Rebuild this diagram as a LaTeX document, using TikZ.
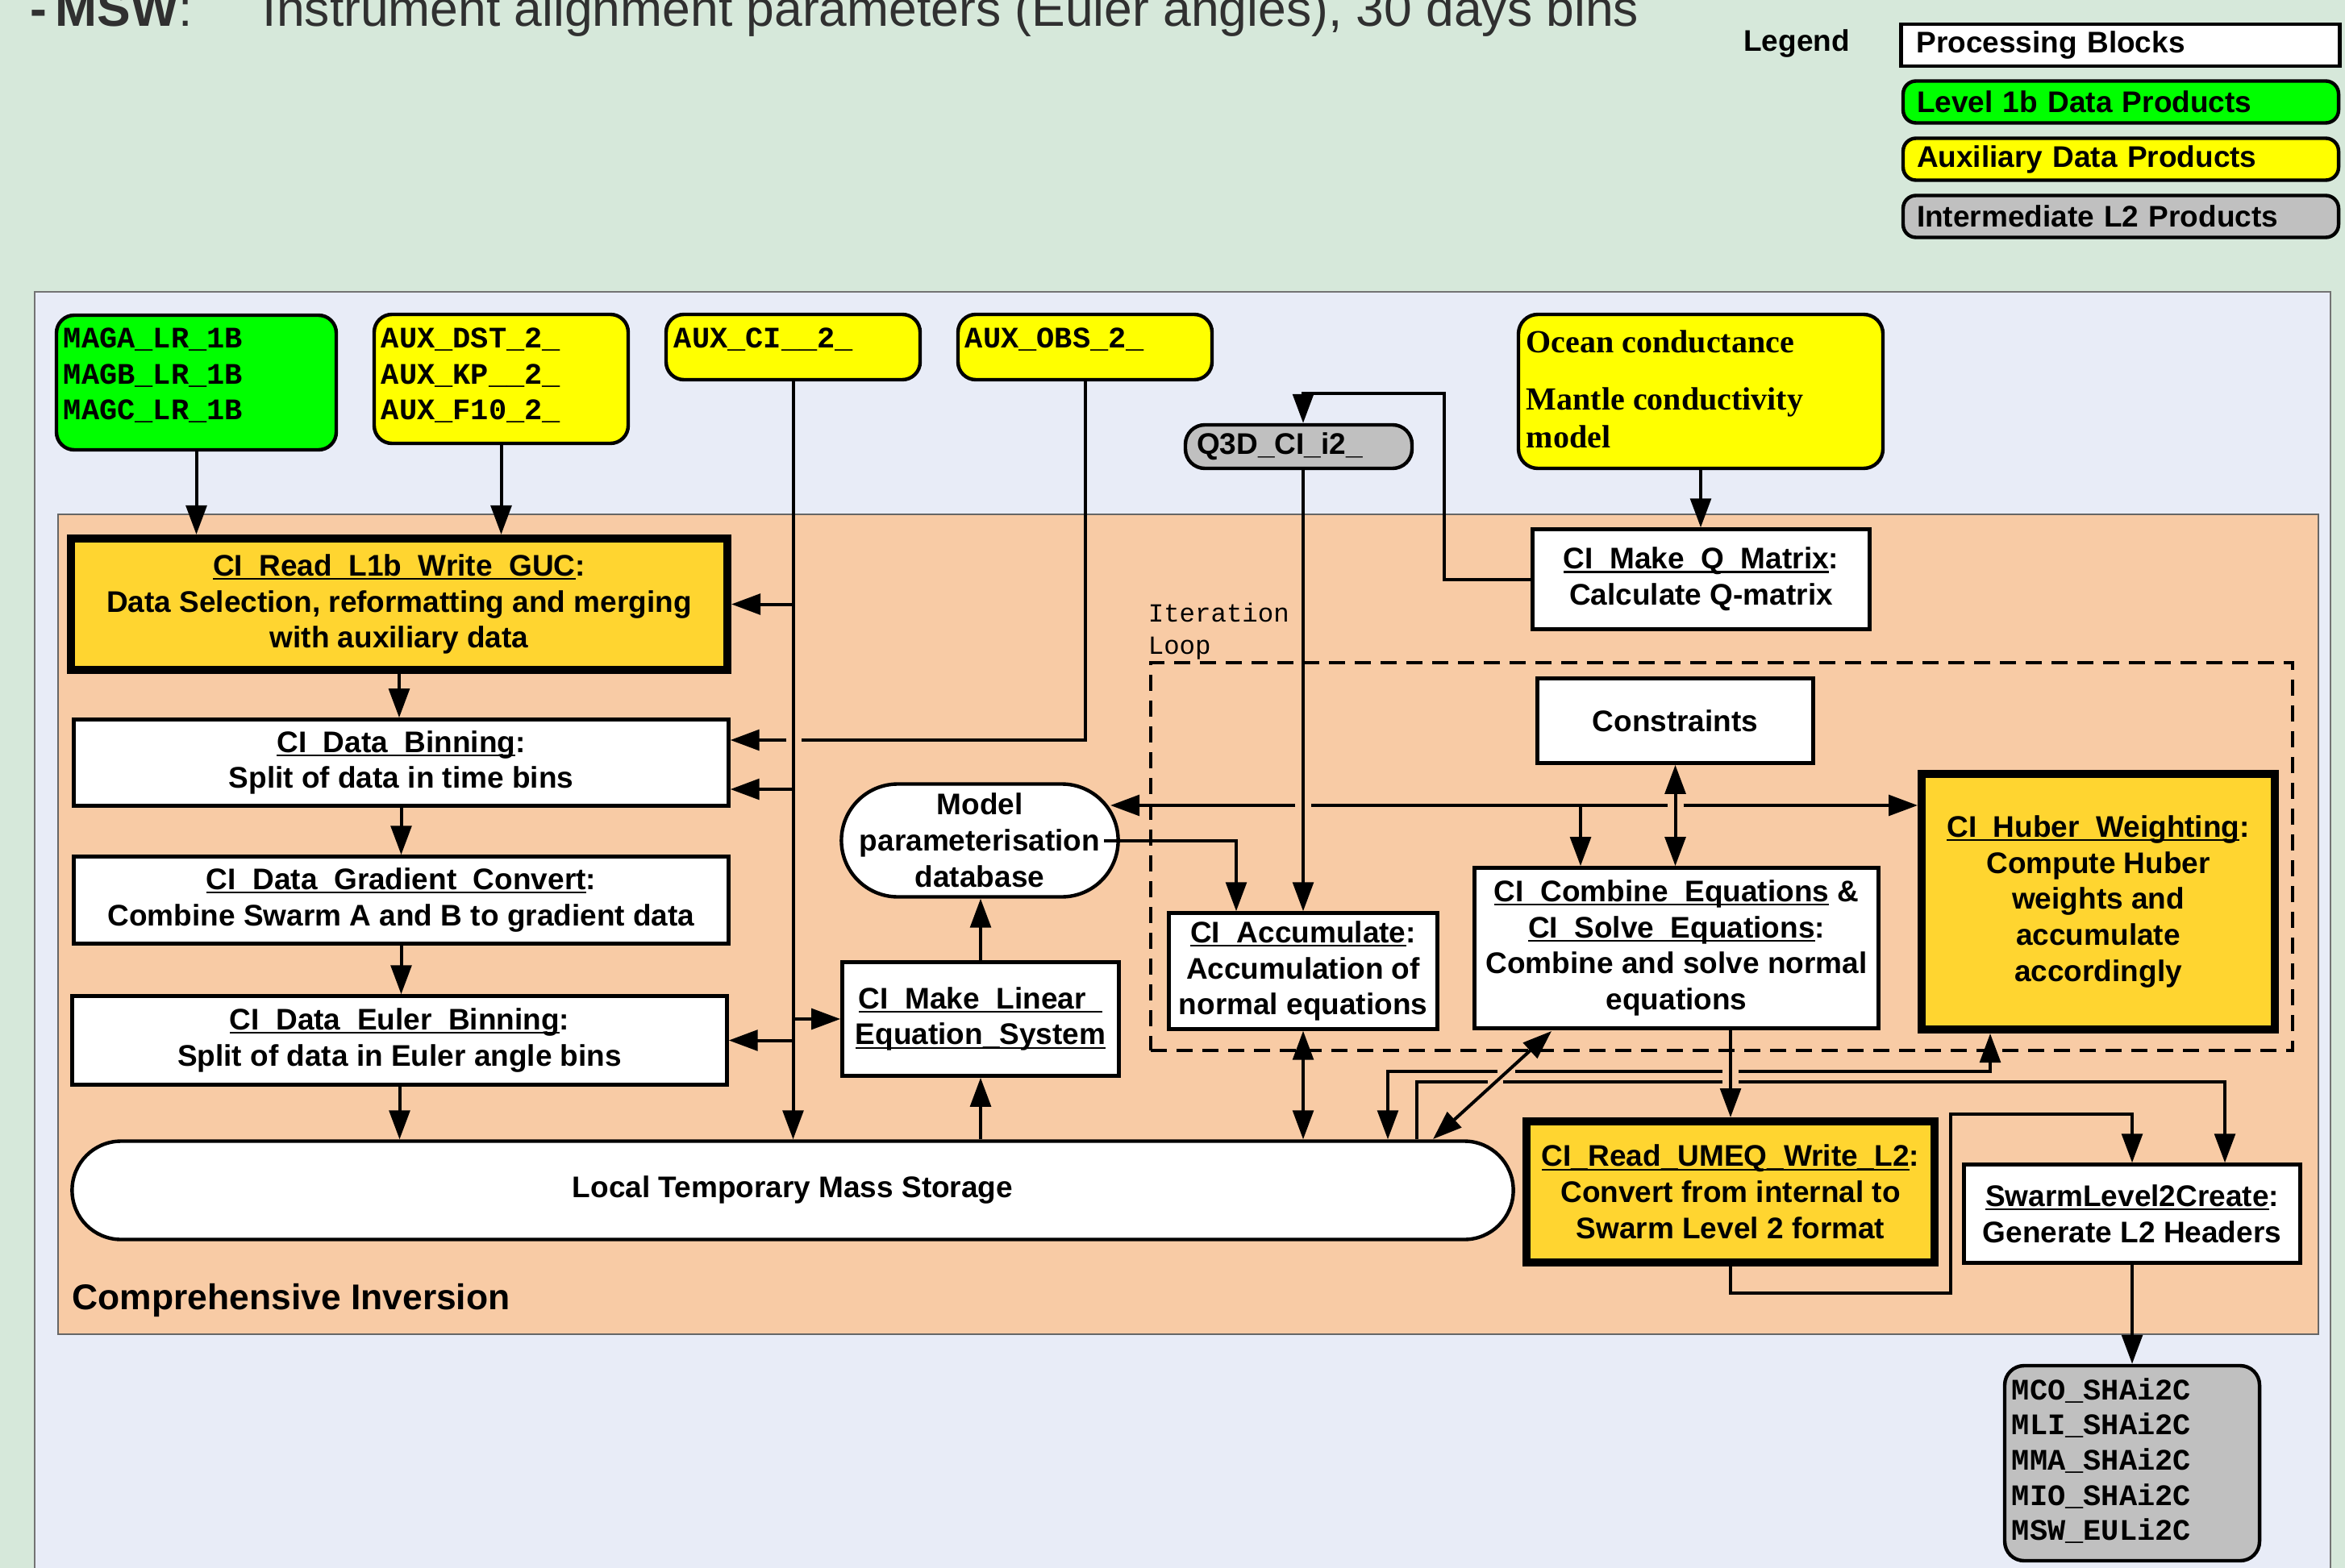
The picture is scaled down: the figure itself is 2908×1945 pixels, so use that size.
\documentclass[tikz,border=0pt]{standalone}
\usepackage{fontspec}
\setmainfont{Liberation Sans}
\setmonofont{Liberation Mono}
\newfontfamily\tnrfont{Liberation Serif}
\usetikzlibrary{arrows.meta,calc}

\definecolor{bgouter}{HTML}{D6E8DA}
\definecolor{bgpanel}{HTML}{E8ECF7}
\definecolor{ciorange}{HTML}{F8CBA5}
\definecolor{lvlgreen}{HTML}{00FF00}
\definecolor{auxyellow}{HTML}{FFFF00}
\definecolor{ltwogray}{HTML}{C0C0C0}
\definecolor{goldfill}{HTML}{FFD530}
\definecolor{titlegray}{HTML}{303030}

\newcommand{\fntbox}{\fontsize{9.25pt}{11.2pt}\selectfont\bfseries}
\newcommand{\fntmono}{\fontsize{9.25pt}{11.1pt}\selectfont\ttfamily\bfseries}
\newcommand{\fntloop}{\fontsize{8.1pt}{10pt}\selectfont\ttfamily}
\newcommand{\fntocean}{\fontsize{10pt}{11.75pt}\selectfont\tnrfont\bfseries}
\newcommand{\fnttitle}{\fontsize{15.6pt}{18pt}\selectfont}
% underline placed at the level of the underscore glyph
\newcommand{\uln}[1]{\leavevmode\setbox0=\hbox{#1}\rlap{\rule[-0.13em]{\wd0}{0.06em}}\box0\relax}

\tikzset{
  x=0.25pt, y=-0.25pt,
  proc/.style={draw=black, line width=1.1pt, fill=white, align=center, inner sep=0pt, font=\fntbox},
  procthick/.style={proc, fill=goldfill, line width=2.5pt},
  prod/.style={draw=black, line width=1.1pt, rounded corners=5.5pt, inner ysep=0pt},
  lvlone/.style={prod, fill=lvlgreen},
  auxprod/.style={prod, fill=auxyellow},
  interprod/.style={prod, fill=ltwogray},
  monotext/.style={font=\fntmono, align=left, inner sep=0pt, anchor=west},
  legbox/.style={line width=1.1pt, minimum width=135pt, minimum height=13pt, text width=126.5pt,
    inner xsep=4.25pt, inner ysep=0pt, align=left, font=\fntbox},
  conn/.style={line width=1pt, draw=black},
  arr/.style={conn, -{Triangle[length=9pt,width=6.4pt]}},
  arrb/.style={conn, {Triangle[length=9pt,width=6.4pt]}-{Triangle[length=9pt,width=6.4pt]}},
}

\begin{document}
\begin{tikzpicture}
\useasboundingbox (0,0) rectangle (2908,1945);
\clip (0,0) rectangle (2908,1945);

% backgrounds
\fill[bgouter] (0,0) rectangle (2908,1945);
\filldraw[fill=bgpanel, draw=black!55, line width=0.4pt] (43,362) rectangle (2890,1980);
\filldraw[fill=ciorange, draw=black!60, line width=0.5pt] (72,638) rectangle (2875,1655);

% heading
\node[anchor=base west, inner sep=0pt, font=\fnttitle, text=titlegray] (hd-a) at (37,33) {\textbf{-\,MSW}:};
\node[anchor=base west, inner sep=0pt, font=\fnttitle, text=titlegray] (hd-b) at (325,33) {Instrument alignment parameters (Euler angles), 30 days bins};

% legend
\node[font=\fntbox, inner sep=0pt] (leg-label) at (2228,54) {Legend};
\node[legbox, draw=black, fill=white, minimum width=136pt] (leg-proc) at (2629.5,56) {Processing Blocks};
\node[legbox, draw=black, fill=lvlgreen, rounded corners=4pt] (leg-lone) at (2630,126.5) {Level 1b Data Products};
\node[legbox, draw=black, fill=auxyellow, rounded corners=4pt] (leg-aux) at (2630,197.5) {Auxiliary Data Products};
\node[legbox, draw=black, fill=ltwogray, rounded corners=4pt] (leg-ltwo) at (2630,268.5) {Intermediate L2 Products};

\node[anchor=west, inner sep=0pt, font=\fontsize{11.1pt}{13pt}\selectfont\bfseries] (ci-label) at (89,1613) {Comprehensive Inversion};

% input products
\node[lvlone, minimum width=86.75pt, minimum height=41.75pt] (maga) at (243.5,474.5) {};
\node[monotext] (maga-t) at (78,466) {MAGA\_LR\_1B\\MAGB\_LR\_1B\\MAGC\_LR\_1B};
\node[auxprod, minimum width=78.75pt, minimum height=40pt] (auxdst) at (621.5,470) {};
\node[monotext] (auxdst-t) at (472,466) {AUX\_DST\_2\_\\AUX\_KP\_\_2\_\\AUX\_F10\_2\_};
\node[auxprod, minimum width=78.75pt, minimum height=20.25pt] (auxci) at (983.5,430.5) {};
\node[monotext] (auxci-t) at (835,421) {AUX\_CI\_\_2\_};
\node[auxprod, minimum width=78.75pt, minimum height=20.25pt] (auxobs) at (1345.5,430.5) {};
\node[monotext] (auxobs-t) at (1196,421) {AUX\_OBS\_2\_};
\node[interprod, rounded corners=6pt, minimum width=70.25pt, minimum height=13.5pt, text width=63.25pt,
  inner xsep=3.5pt, align=left, font=\fntbox] (q3d) at (1610.5,554) {Q3D\_CI\_i2\_};
\node[auxprod, rounded corners=6pt, minimum width=113pt, minimum height=47.75pt] (ocean) at (2109,485.5) {};
\node[font=\fntocean, align=left, anchor=west, inner sep=0pt] (ocean-t) at (1892,483)
  {Ocean conductance\\[6pt]Mantle conductivity\\model};

% iteration loop frame
\node[draw=black, line width=1pt, dash pattern=on 5pt off 3pt, minimum width=354pt,
  minimum height=120.25pt, inner sep=0pt] (loop) at (2135,1062.5) {};
\node[font=\fntloop, align=left, anchor=west, inner sep=0pt] (loop-t) at (1423,783) {Iteration\\Loop};

% processing blocks
\node[procthick, minimum width=203.5pt, minimum height=40.75pt] (read) at (495,749.5)
  {\uln{CI\_Read\_L1b\_Write\_GUC}:\\Data Selection, reformatting and merging\\with auxiliary data};
\node[proc, minimum width=203pt, minimum height=26.8pt] (bin) at (497.5,946)
  {\uln{CI\_Data\_Binning}:\\Split of data in time bins};
\node[proc, minimum width=203pt, minimum height=27pt] (grad) at (497.5,1116.5)
  {\uln{CI\_Data\_Gradient\_Convert}:\\Combine Swarm A and B to gradient data};
\node[proc, minimum width=203pt, minimum height=27.5pt] (euler) at (495.5,1290.5)
  {\uln{CI\_Data\_Euler\_Binning}:\\Split of data in Euler angle bins};
\node[proc, rounded corners=15.2pt, minimum width=446.8pt, minimum height=30.5pt] (storage) at (983,1476.5)
  {Local Temporary Mass Storage};
\node[proc, rounded corners=17.5pt, minimum width=85.8pt, minimum height=35pt] (model) at (1215,1042.5)
  {Model\\parameterisation\\database};
\node[proc, minimum width=85.8pt, minimum height=35.3pt] (mklin) at (1216,1264)
  {\uln{CI\_Make\_Linear\_}\\\uln{Equation\_System}};
\node[proc, minimum width=104.5pt, minimum height=31pt] (makeq) at (2109.5,718.5)
  {\uln{CI\_Make\_Q\_Matrix}:\\Calculate Q-matrix};
\node[proc, minimum width=83.3pt, minimum height=36pt] (acc) at (1616,1204.5)
  {\uln{CI\_Accumulate}:\\Accumulation of\\normal equations};
\node[proc, minimum width=85.5pt, minimum height=26.3pt] (constr) at (2077.5,894) {Constraints};
\node[proc, minimum width=125.3pt, minimum height=49.8pt] (comb) at (2079,1176)
  {\uln{CI\_Combine\_Equations} \&\\\uln{CI\_Solve\_Equations}:\\Combine and solve normal\\equations};
\node[procthick, minimum width=109.5pt, minimum height=79.25pt] (huber) at (2602,1118.5)
  {\uln{CI\_Huber\_Weighting}:\\Compute Huber\\weights and\\accumulate\\accordingly};
\node[procthick, minimum width=126.5pt, minimum height=43.75pt] (umeq) at (2146,1478.5)
  {\uln{CI\_Read\_UMEQ\_Write\_L2}:\\Convert from internal to\\Swarm Level 2 format};
\node[proc, minimum width=104.3pt, minimum height=30.5pt] (swl) at (2644,1505.5)
  {\uln{SwarmLevel2Create}:\\Generate L2 Headers};

% output products
\node[interprod, rounded corners=6pt, minimum width=79pt, minimum height=60.5pt] (mco) at (2644,1815) {};
\node[monotext, font=\fontsize{9.25pt}{10.9pt}\selectfont\ttfamily\bfseries] (mco-t) at (2494,1812)
  {MCO\_SHAi2C\\MLI\_SHAi2C\\MMA\_SHAi2C\\MIO\_SHAi2C\\MSW\_EULi2C};

% helper coordinates for routing
\coordinate (y-bin-hi) at (0,918);
\coordinate (y-bin-lo) at (0,979);
\coordinate (obs-gap-r) at (994,918);
\coordinate (obs-gap-l) at (975,918);
\coordinate (q-x) at (1616,0);
\coordinate (q-bend) at (1791,488);
\coordinate (h-y) at (0,999);
\coordinate (md-in) at (1377,999);
\coordinate (br-x) at (1960,0);
\coordinate (md-out) at (1369,1042.5);
\coordinate (ma-x) at (1533,0);
\coordinate (cd) at (1924,1279);
\coordinate (sd) at (1777,1413);
\coordinate (s1x) at (1721,0);
\coordinate (s2x) at (1757,0);
\coordinate (hb-x) at (2468,0);
\coordinate (sw-x) at (2759,0);
\coordinate (la-1) at (1857,1329);
\coordinate (la-2) at (1879,1329);
\coordinate (la-3) at (2136,1329);
\coordinate (la-4) at (2156,1329);
\coordinate (lb-1) at (1845,1342);
\coordinate (lb-2) at (1864,1342);
\coordinate (lb-3) at (2136,1342);
\coordinate (lb-4) at (2156,1342);
\coordinate (u-bend) at (2419,1382);

% inputs to the reader
\draw[arr] (maga.south) -- (maga.south |- read.north);
\draw[arr] (auxdst.south) -- (auxdst.south |- read.north);

% AUX_CI spine and its branches
\draw[arr] (auxci.south) -- (auxci.south |- storage.north);
\draw[arr] (auxci.south |- read.east) -- (read.east);
\draw[arr] (auxci.south |- y-bin-lo) -- (bin.east |- y-bin-lo);
\draw[arr] (auxci.south |- euler.east) -- (euler.east);
\draw[arr] (auxci.south |- mklin.west) -- (mklin.west);

% AUX_OBS to binning, hopping over the spine
\draw[conn] (auxobs.south) |- (obs-gap-r);
\draw[arr] (obs-gap-l) -- (bin.east |- y-bin-hi);

% left processing chain
\draw[arr] (read.south) -- (read.south |- bin.north);
\draw[arr] (bin.south) -- (bin.south |- grad.north);
\draw[arr] (grad.south) -- (grad.south |- euler.north);
\draw[arr] (euler.south) -- (euler.south |- storage.north);

% Q-matrix
\draw[arr] (ocean.south) -- (ocean.south |- makeq.north);
\draw[arr] (makeq.west) -| (q-bend) -| (q3d.north -| q-x);
\draw[arr] (q3d.south -| q-x) -- (acc.north -| q-x);

% model update line
\draw[arr] ($(q-x |- h-y)+(-10,0)$) -- (md-in);
\draw[conn] ($(q-x |- h-y)+(10,0)$) -- ($(constr.south |- h-y)+(-10,0)$);
\draw[arr] ($(constr.south |- h-y)+(10,0)$) -- (huber.west |- h-y);
\draw[arr] (br-x |- h-y) -- (br-x |- comb.north);
\draw[arrb] (constr.south) -- (constr.south |- comb.north);

% model, linear system and accumulation
\draw[arr] (md-out) -| (acc.north -| ma-x);
\draw[arr] (mklin.north) -- (mklin.north |- model.south);
\draw[arr] (mklin.south |- storage.north) -- (mklin.south);
\draw[arrb] (acc.south) -- (acc.south |- storage.north);
\draw[arrb] (cd) -- (sd);

% storage to Huber weighting and to L2 header creation
\draw[arr] (la-1) -| (s1x |- storage.north);
\draw[conn] (la-2) -- (la-3);
\draw[arr] (la-4) -| (hb-x |- huber.south);
\draw[conn] (s2x |- storage.north) |- (lb-1);
\draw[conn] (lb-2) -- (lb-3);
\draw[arr] (lb-4) -| (sw-x |- swl.north);

% output chain
\draw[arr] (comb.south -| umeq.north) -- (umeq.north);
\draw[arr] (umeq.south) -- ++(0,33) -| (u-bend) -| (swl.north);
\draw[arr] (swl.south) -- (swl.south |- mco.north);
\end{tikzpicture}
\end{document}
